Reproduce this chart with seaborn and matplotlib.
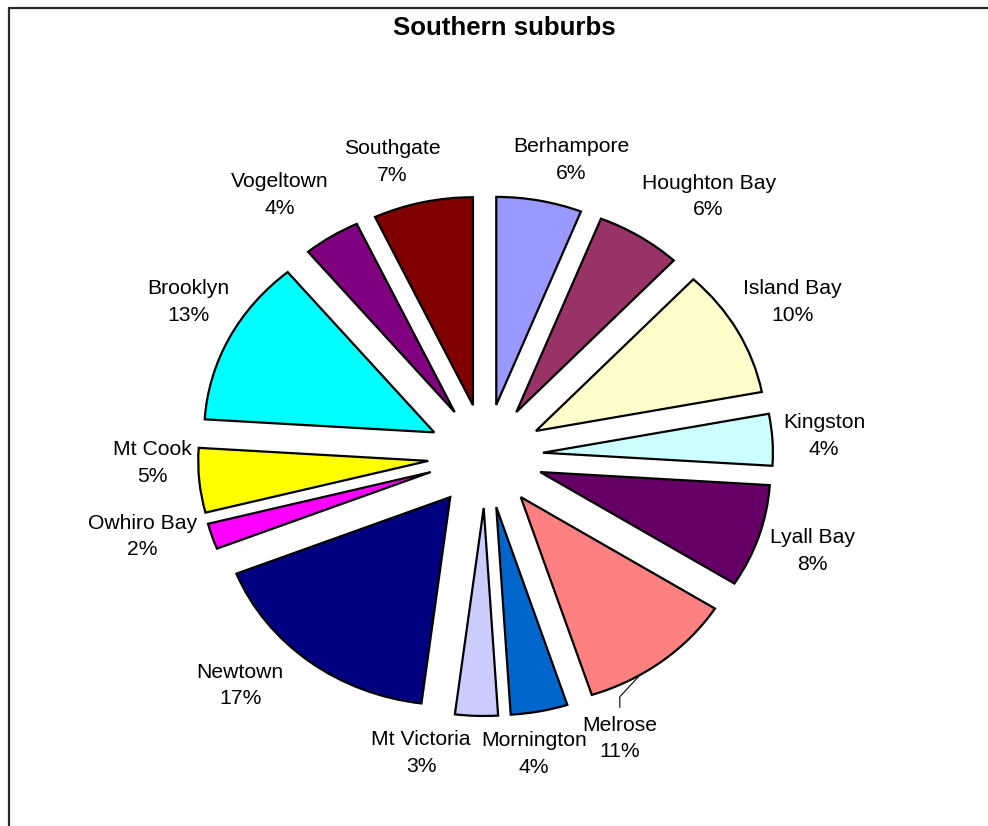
import matplotlib
matplotlib.use("Agg")
import matplotlib.pyplot as plt
from matplotlib.lines import Line2D
import numpy as np
import seaborn as sns

# Share of responses by suburb (percent), clockwise from 12 o'clock
suburbs = ["Berhampore", "Houghton Bay", "Island Bay", "Kingston", "Lyall Bay",
           "Melrose", "Mornington", "Mt Victoria", "Newtown", "Owhiro Bay",
           "Mt Cook", "Brooklyn", "Vogeltown", "Southgate"]
shares = [6, 6, 10, 4, 8, 11, 4, 3, 17, 2, 5, 13, 4, 7]
fill_colors = ["#9999FF", "#993366", "#FFFFCC", "#CCFFFF", "#660066",
               "#FF8080", "#0066CC", "#CCCCFF", "#000080", "#FF00FF",
               "#FFFF00", "#00FFFF", "#800080", "#800000"]
chart_title = "Southern suburbs"

sns.set_theme(style="white")
plt.rcParams["font.family"] = ["Liberation Sans", "DejaVu Sans"]

W, H = 988, 826
fig = plt.figure(figsize=(W / 100, H / 100), dpi=100)
ax = fig.add_axes([0, 0, 1, 1])

wedges, _ = ax.pie(
    shares,
    colors=sns.color_palette(fill_colors),
    startangle=90,
    counterclock=False,
    explode=[0.25] * len(shares),
    radius=1.0,
    wedgeprops=dict(edgecolor="black", linewidth=1.6),
)

# pie centre sits at (cx, cy) px; slightly wider than tall
cx, cy, rx, ry = 485.5, 456.0, 230.0, 208.0
ax.set_aspect("auto")
ax.set_xlim(-cx / rx, (W - cx) / rx)
ax.set_ylim(-(H - cy) / ry, cy / ry)
ax.axis("off")

# label placement: (angle shift in degrees, distance from slice centre)
label_layout = {
    "Berhampore": (-4.5, 1.23),
    "Houghton Bay": (-6.2, 1.34),
    "Island Bay": (0.7, 1.28),
    "Kingston": (0.6, 1.225),
    "Lyall Bay": (0.6, 1.24),
    "Melrose": (-17.3, 1.23),
    "Mornington": (-2.9, 1.19),
    "Mt Victoria": (-11.3, 1.20),
    "Newtown": (-7.7, 1.28),
    "Owhiro Bay": (-4.6, 1.29),
    "Mt Cook": (-5.4, 1.20),
    "Brooklyn": (-3.8, 1.245),
    "Vogeltown": (3.4, 1.30),
    "Southgate": (4.0, 1.23),
}
text_drop = 2.0 / ry  # nudge label blocks down slightly

total = float(sum(shares))
for w, name, v in zip(wedges, suburbs, shares):
    theta = 0.5 * (w.theta1 + w.theta2)
    d_ang, dist = label_layout.get(name, (0.0, 1.23))
    a = np.deg2rad(theta + d_ang)
    x = w.center[0] + dist * np.cos(a)
    y = w.center[1] + dist * np.sin(a)
    ax.text(x, y - text_drop, f"{name}\n{100 * v / total:.0f}%", ha="center", va="center",
            fontsize=15.2, linespacing=1.5, color="black")
    if name == "Melrose":
        # short leader from the slice edge down to the label
        b = np.deg2rad(theta - 6.5)
        p0 = (w.center[0] + np.cos(b), w.center[1] + np.sin(b))
        ax.plot([p0[0], x, x], [p0[1], y + 0.192, y + 0.139],
                color="black", lw=0.8, solid_capstyle="butt")

fig.text(504.5 / W, 1 - 35 / H, chart_title, ha="center", va="baseline",
         fontsize=18.6, fontweight="bold", color="black")

# chart-area border (left and top edges)
fig.add_artist(Line2D([8.5 / W, 8.5 / W], [0, 1 - 7.5 / H], color="#2b2b2b", lw=1.6))
fig.add_artist(Line2D([8.5 / W, 1], [1 - 7.5 / H, 1 - 7.5 / H], color="#2b2b2b", lw=1.6))

fig.savefig("out.png", dpi=100, facecolor="white")
